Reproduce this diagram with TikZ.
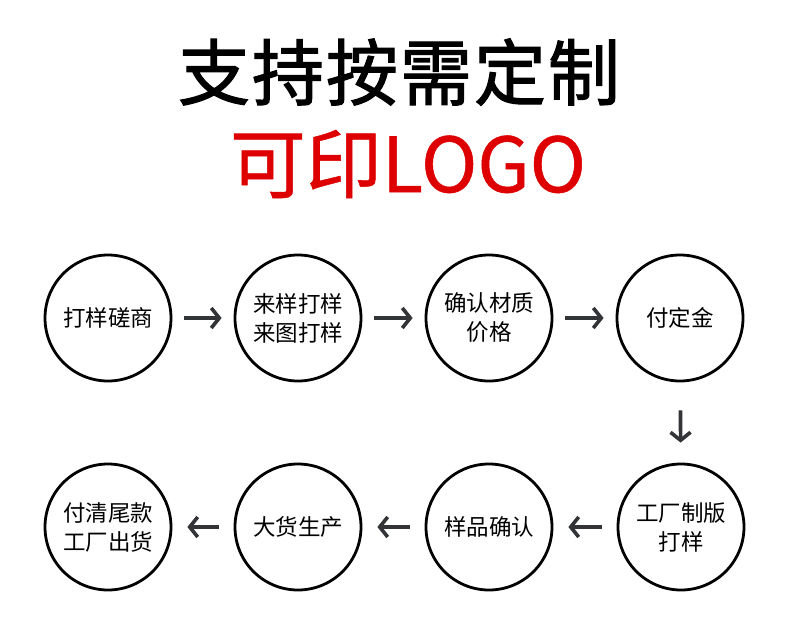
\documentclass[tikz,border=0pt]{standalone}
\usepackage{fontspec}
\newfontfamily\cjk{Noto Sans CJK SC}
\newfontfamily\cjktitle[FakeBold=1.6]{Noto Sans CJK SC}
\newfontfamily\cjksub[FakeBold=0.7]{Noto Sans CJK SC}
\usetikzlibrary{arrows.meta}
\definecolor{titlered}{RGB}{222,0,0}
\definecolor{arrowgray}{RGB}{50,52,56}
\tikzset{
  stepcircle/.style={circle, draw=black, line width=2.8pt, minimum size=126pt, inner sep=0pt,
    align=center, font=\cjk\fontsize{22.5}{29}\selectfont},
  flowarrow/.style={draw=arrowgray, line width=3.6pt,
    -{Straight Barb[length=8pt,width=20pt,line width=3.6pt]}}
}
\begin{document}
\begin{tikzpicture}[x=1pt,y=-1pt]
\useasboundingbox (0,0) rectangle (790,627);
\node (title) at (399,72) {\cjktitle\fontsize{72}{80}\selectfont 支\kern2pt持\kern2pt按\kern2pt需\kern2pt定\kern2pt制};
\node[text=titlered] (sub) at (408,164) {\cjksub\fontsize{76}{84}\selectfont 可印LOGO};

\node[stepcircle] (s1) at (108,318) {打样磋商};
\node[stepcircle] (s2) at (298,318) {来样打样\\来图打样};
\node[stepcircle] (s3) at (489,318) {确认材质\\价格};
\node[stepcircle] (s4) at (680,318) {付定金};
\node[stepcircle] (s5) at (681,527) {工厂制版\\打样};
\node[stepcircle] (s6) at (489,527) {样品确认};
\node[stepcircle] (s7) at (298,527) {大货生产};
\node[stepcircle] (s8) at (108,527) {付清尾款\\工厂出货};

\draw[flowarrow, shorten <=12pt, shorten >=12pt] (s1) -- (s2);
\draw[flowarrow, shorten <=12pt, shorten >=12pt] (s2) -- (s3);
\draw[flowarrow, shorten <=12pt, shorten >=12pt] (s3) -- (s4);
\draw[flowarrow, shorten <=28pt, shorten >=20pt] (s4) -- (s5);
\draw[flowarrow, shorten <=15pt, shorten >=15pt] (s5) -- (s6);
\draw[flowarrow, shorten <=15pt, shorten >=15pt] (s6) -- (s7);
\draw[flowarrow, shorten <=15pt, shorten >=15pt] (s7) -- (s8);
\end{tikzpicture}
\end{document}
